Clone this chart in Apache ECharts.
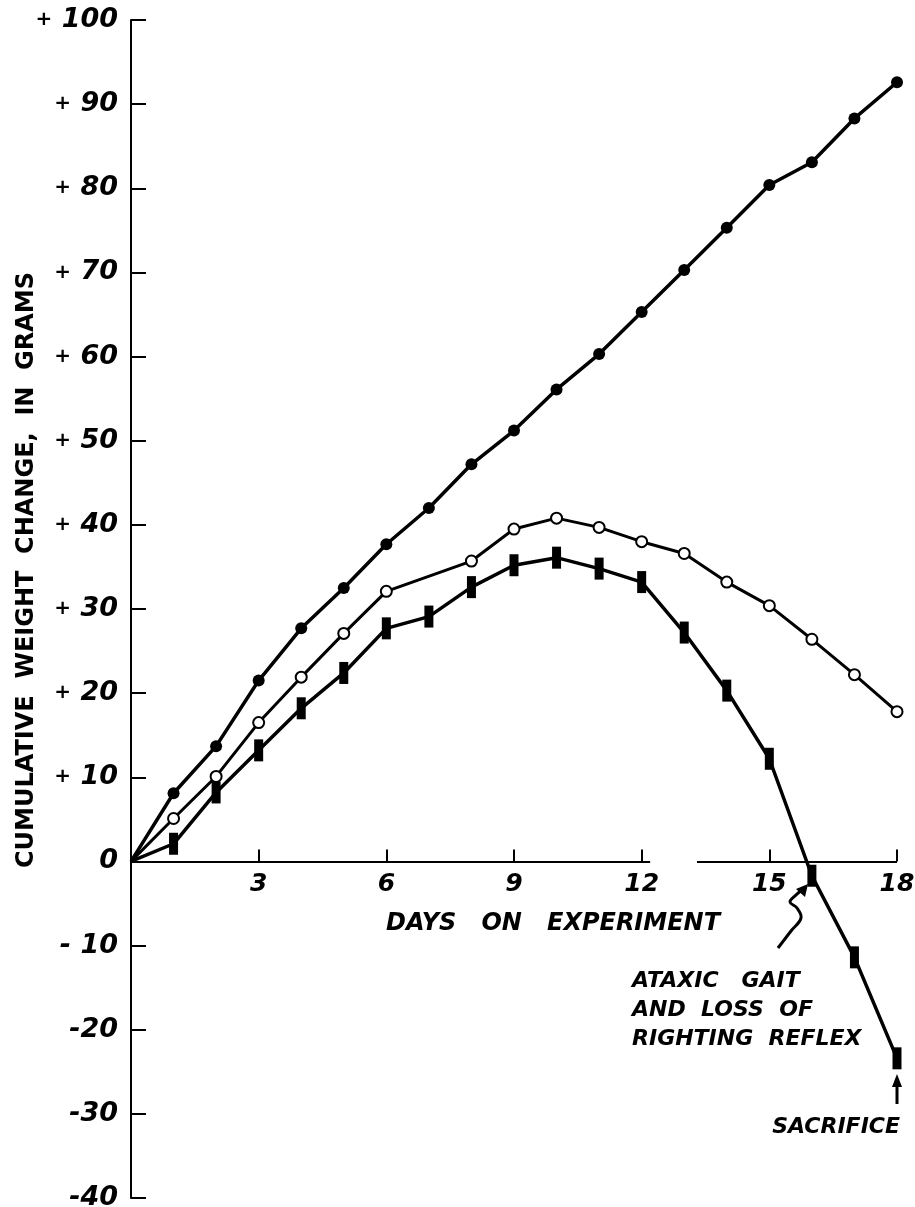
<!DOCTYPE html>
<html>
<head>
<meta charset="utf-8">
<script src="https://cdn.jsdelivr.net/npm/echarts@6/dist/echarts.min.js"></script>
<style>
    html, body { margin: 0; padding: 0; background: #fff; }
    #weightChart { width: 915px; height: 1207px; }
</style>
</head>
<body>
<div id="weightChart"></div>
<script>
    // days on experiment
    var days = [0, 1, 2, 3, 4, 5, 6, 7, 8, 9, 10, 11, 12, 13, 14, 15, 16, 17, 18];
    // filled circles
    var filledCircle = [0, 8.1, 13.7, 21.5, 27.7, 32.5, 37.7, 42.0, 47.2, 51.2, 56.1, 60.3, 65.3, 70.3, 75.3, 80.4, 83.1, 88.3, 92.6];
    // open circles (no reading on day 7)
    var openCircle = [0, 5.1, 10.1, 16.5, 21.9, 27.1, 32.1, null, 35.7, 39.5, 40.8, 39.7, 38.0, 36.6, 33.2, 30.4, 26.4, 22.2, 17.8];
    // bar markers
    var barMarker = [0, 2.1, 8.2, 13.2, 18.2, 22.4, 27.7, 29.1, 32.6, 35.2, 36.1, 34.8, 33.2, 27.2, 20.3, 12.2, -1.7, -11.4, -23.4];

    var yTicks = [-40, -30, -20, -10, 0, 10, 20, 30, 40, 50, 60, 70, 80, 90, 100];
    var yTickLabels = ['-40', '-30', '-20', '- 10', '0', '+ 10', '+ 20', '+ 30', '+ 40', '+ 50', '+ 60', '+ 70', '+ 80', '+ 90', '+ 100'];
    // x axis line is broken between these day values
    var xAxisPieces = [[0, 12.2], [13.3, 18]];

    var font = 'DejaVu Sans';
    var gridTop = 20;
    var gridBottom = 9;
    var chartHeight = 1207;
    var yMin = -40;
    var yMax = 100;

    // distance from the grid bottom up to y = 0, so the day axis sits on zero
    var plotHeight = chartHeight - gridTop - gridBottom;
    var zeroOffset = plotHeight * (0 - yMin) / (yMax - yMin);

    function toPoints(vals) {
        return days.map(function (d, i) {
            var v = vals[i];
            if (v === null) {
                return [d, '-'];
            }
            if (d === 0) {
                return { value: [d, v], symbol: 'none' };
            }
            return [d, v];
        });
    }

    var chart = echarts.init(document.getElementById('weightChart'));
    chart.setOption({
        backgroundColor: '#fff',
        animation: false,
        grid: {
            left: 131,
            right: 18,
            top: gridTop,
            bottom: gridBottom,
            containLabel: false,
            outerBoundsMode: 'none'
        },
        xAxis: {
            type: 'value',
            min: 0,
            max: 18,
            interval: 3,
            position: 'bottom',
            offset: -zeroOffset,
            axisLine: { show: false, onZero: false },
            axisTick: {
                show: true,
                inside: true,
                length: 12,
                lineStyle: { color: '#000', width: 2 }
            },
            splitLine: { show: false },
            axisLabel: {
                margin: 11,
                color: '#000',
                fontFamily: font,
                fontStyle: 'italic',
                fontWeight: 'bold',
                fontSize: 25,
                formatter: function (v) {
                    return v === 0 ? '' : String(v);
                }
            }
        },
        yAxis: {
            type: 'value',
            min: yMin,
            max: yMax,
            interval: 10,
            axisLine: {
                show: true,
                onZero: false,
                lineStyle: { color: '#000', width: 2 }
            },
            axisTick: {
                show: true,
                inside: true,
                length: 15,
                lineStyle: { color: '#000', width: 2 }
            },
            splitLine: { show: false },
            axisLabel: {
                margin: 13,
                color: '#000',
                fontFamily: font,
                fontStyle: 'italic',
                fontWeight: 'bold',
                fontSize: 27,
                formatter: function (v) {
                    var text = yTickLabels[yTicks.indexOf(v)] || String(v);
                    return text.replace('+', '{p|+}');
                },
                rich: {
                    p: {
                        fontFamily: font,
                        fontSize: 20,
                        fontWeight: 'bold',
                        color: '#000'
                    }
                }
            }
        },
        series: [{
            name: 'filled',
            type: 'line',
            symbol: 'circle',
            symbolSize: 12,
            itemStyle: { color: '#000' },
            lineStyle: { color: '#000', width: 3.5 },
            z: 3,
            data: toPoints(filledCircle),
            markLine: {
                silent: true,
                symbol: ['none', 'none'],
                label: { show: false },
                lineStyle: { color: '#000', width: 2, type: 'solid' },
                data: xAxisPieces.map(function (p) {
                    return [{ coord: [p[0], 0] }, { coord: [p[1], 0] }];
                })
            }
        }, {
            name: 'open',
            type: 'line',
            connectNulls: true,
            symbol: 'circle',
            symbolSize: 11,
            itemStyle: { color: '#fff', borderColor: '#000', borderWidth: 2 },
            lineStyle: { color: '#000', width: 3 },
            z: 4,
            data: toPoints(openCircle)
        }, {
            name: 'bar',
            type: 'line',
            symbol: 'rect',
            symbolSize: [9, 22],
            itemStyle: { color: '#000' },
            lineStyle: { color: '#000', width: 3.5 },
            z: 3,
            data: toPoints(barMarker)
        }],
        graphic: [{
            type: 'text',
            x: 27,
            y: 570,
            rotation: Math.PI / 2,
            style: {
                text: 'CUMULATIVE  WEIGHT  CHANGE,  IN  GRAMS',
                fontFamily: font,
                fontWeight: 'bold',
                fontSize: 24,
                fill: '#000',
                align: 'center',
                verticalAlign: 'middle'
            }
        }, {
            type: 'text',
            x: 553,
            y: 924,
            style: {
                text: 'DAYS   ON   EXPERIMENT',
                fontFamily: font,
                fontStyle: 'italic',
                fontWeight: 'bold',
                fontSize: 24,
                fill: '#000',
                align: 'center',
                verticalAlign: 'middle'
            }
        }, {
            type: 'text',
            x: 632,
            y: 967,
            style: {
                text: 'ATAXIC   GAIT\nAND  LOSS  OF\nRIGHTING  REFLEX',
                fontFamily: font,
                fontStyle: 'italic',
                fontWeight: 'bold',
                fontSize: 22,
                lineHeight: 29,
                fill: '#000',
                align: 'left',
                verticalAlign: 'top'
            }
        }, {
            type: 'text',
            x: 900,
            y: 1127,
            style: {
                text: 'SACRIFICE',
                fontFamily: font,
                fontStyle: 'italic',
                fontWeight: 'bold',
                fontSize: 22,
                fill: '#000',
                align: 'right',
                verticalAlign: 'middle'
            }
        }, {
            // sacrifice arrow
            type: 'line',
            shape: { x1: 897, y1: 1104, x2: 897, y2: 1084 },
            style: { stroke: '#000', lineWidth: 3 }
        }, {
            type: 'polygon',
            shape: { points: [[897, 1074], [892, 1087], [902, 1087]] },
            style: { fill: '#000' }
        }, {
            // squiggly arrow to day 16
            type: 'polyline',
            shape: {
                points: [[778, 948], [791, 931], [801, 918], [797, 908], [790, 902], [796, 895], [803, 889]],
                smooth: 0.4
            },
            style: { stroke: '#000', lineWidth: 3, fill: null }
        }, {
            type: 'polygon',
            shape: { points: [[808, 884], [796, 889], [805, 897]] },
            style: { fill: '#000' }
        }]
    });
</script>
</body>
</html>
